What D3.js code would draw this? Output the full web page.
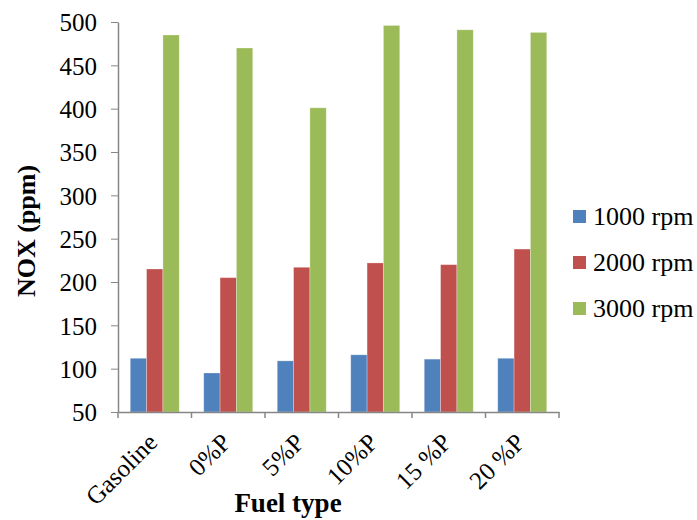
<!DOCTYPE html>
<html>
<head>
<meta charset="utf-8">
<script src="https://cdn.jsdelivr.net/npm/d3@7"></script>
<style>
  body { margin: 0; background: #fff; }
  svg text { font-family: "Liberation Serif", "Times New Roman", Times, serif; fill: #000; }
  .axis path, .axis line { stroke: #868686; }
</style>
</head>
<body>
<div id="chart"></div>
<script>
let categories = ["Gasoline", "0%P", "5%P", "10%P", "15 %P", "20 %P"];
let seriesNames = ["1000 rpm", "2000 rpm", "3000 rpm"];
let rpm1000 = [112, 95, 109, 116, 111, 112];
let rpm2000 = [215, 205, 217, 222, 220, 238];
let rpm3000 = [485, 470, 401, 496, 491, 488];
let yTicks = [50, 100, 150, 200, 250, 300, 350, 400, 450, 500];
let colors = ["#4F81BD", "#C0504D", "#9BBB59"];

let seriesValues = [rpm1000, rpm2000, rpm3000];
let serif = "'Liberation Serif', 'Times New Roman', Times, serif";

let width = 697, height = 520;
let plot = {left: 118, right: 559, top: 22, bottom: 412};

let svg = d3.select("#chart")
    .append("svg")
    .attr("width", width)
    .attr("height", height);

let x0 = d3.scaleBand().domain(categories).range([plot.left, plot.right]).padding(0);
let bw = x0.bandwidth();
let x1 = d3.scaleBand().domain(seriesNames).range([bw / 6, bw * 5 / 6]).padding(0);
let y = d3.scaleLinear().domain([50, 500]).range([plot.bottom, plot.top]);

// bars
let rows = categories.map((c, i) => ({cat: c, vals: seriesNames.map((s, j) => ({s: s, v: seriesValues[j][i], j: j}))}));

svg.selectAll("g.group")
    .data(rows)
    .enter()
    .append("g")
    .attr("class", "group")
    .attr("transform", d => "translate(" + x0(d.cat) + ",0)")
    .selectAll("rect")
    .data(d => d.vals)
    .enter()
    .append("rect")
    .attr("x", d => x1(d.s))
    .attr("width", x1.bandwidth())
    .attr("y", d => y(d.v))
    .attr("height", d => y(50) - y(d.v))
    .attr("fill", d => colors[d.j])
    .attr("stroke", "#fff")
    .attr("stroke-opacity", 0.35)
    .attr("stroke-width", 0.8);

// y axis
let yAxis = d3.axisLeft(y).tickValues(yTicks).tickSize(7).tickPadding(14).tickSizeOuter(0);
let gy = svg.append("g")
    .attr("class", "axis")
    .attr("transform", "translate(" + plot.left + ",0)")
    .call(yAxis)
    .attr("font-family", serif);
gy.selectAll("text").style("font-size", "25px").attr("dy", "0.35em");
gy.select(".domain").attr("stroke-width", 1.5);

// x axis
let xAxis = d3.axisBottom(x0).tickSize(0).tickFormat("");
let gx = svg.append("g")
    .attr("class", "axis")
    .attr("transform", "translate(0," + plot.bottom + ")")
    .call(xAxis);
gx.select(".domain").attr("stroke-width", 1.5);
let bounds = categories.map(c => x0(c)).concat([plot.right]);
gx.selectAll("line.bound")
    .data(bounds)
    .enter()
    .append("line")
    .attr("class", "bound")
    .attr("x1", d => d)
    .attr("x2", d => d)
    .attr("y1", 0)
    .attr("y2", 6)
    .attr("stroke-width", 1.5);

svg.selectAll("text.xlab")
    .data(categories)
    .enter()
    .append("text")
    .attr("class", "xlab")
    .attr("transform", d => "translate(" + (x0(d) + bw / 2 + 4) + ",444) rotate(-45)")
    .attr("text-anchor", "end")
    .style("font-size", "25px")
    .text(d => d);

// axis titles
svg.append("text")
    .attr("transform", "translate(35,231) rotate(-90)")
    .attr("text-anchor", "middle")
    .style("font-size", "26px")
    .style("font-weight", "bold")
    .text("NOX (ppm)");

svg.append("text")
    .attr("x", 288)
    .attr("y", 512)
    .attr("text-anchor", "middle")
    .style("font-size", "27px")
    .style("font-weight", "bold")
    .text("Fuel type");

// legend
let legend = svg.selectAll("g.legend")
    .data(seriesNames)
    .enter()
    .append("g")
    .attr("class", "legend")
    .attr("transform", (d, i) => "translate(573," + (210 + i * 46) + ")");

legend.append("rect")
    .attr("width", 13)
    .attr("height", 13)
    .attr("fill", (d, i) => colors[i]);

legend.append("text")
    .attr("x", 20)
    .attr("y", 15)
    .style("font-size", "26px")
    .text(d => d);
</script>
</body>
</html>
